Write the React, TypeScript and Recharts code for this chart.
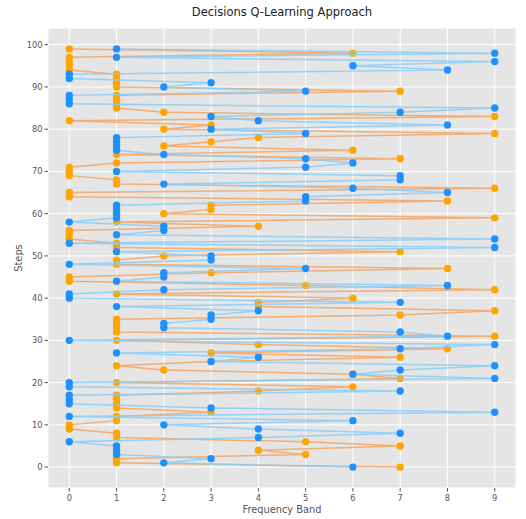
import { ScatterChart, Scatter, XAxis, YAxis, CartesianGrid } from "recharts";

// frequency band picked at each step (index = step)
const blueBands = [
  6, 2, 3, 1, 1, 1, 0, 4, 7, 4,
  2, 6, 0, 9, 3, 0, 0, 0, 7, 0,
  0, 9, 6, 7, 9, 3, 4, 1, 7, 9,
  0, 8, 7, 2, 2, 3, 3, 4, 1, 7,
  0, 0, 2, 8, 1, 2, 2, 5, 0, 3,
  3, 1, 9, 0, 9, 1, 2, 2, 0, 1,
  1, 1, 1, 5, 5, 8, 6, 2, 7, 7,
  1, 5, 6, 5, 2, 1, 1, 1, 1, 5,
  3, 8, 4, 3, 7, 9, 0, 0, 0, 5,
  2, 3, 0, 0, 8, 6, 9, 1, 9, 1,
];

const orangeBands = [
  7, 1, 1, 5, 4, 7, 5, 1, 1, 0,
  0, 1, 1, 3, 1, 1, 1, 1, 4, 6,
  1, 7, 6, 2, 1, 3, 7, 3, 8, 4,
  1, 9, 1, 1, 1, 1, 7, 9, 4, 4,
  6, 1, 9, 5, 0, 0, 3, 8, 1, 1,
  2, 7, 1, 1, 0, 0, 0, 4, 1, 9,
  2, 3, 3, 8, 0, 0, 9, 1, 1, 0,
  0, 0, 1, 7, 1, 6, 2, 3, 4, 9,
  2, 3, 0, 9, 2, 1, 1, 1, 1, 7,
  1, 1, 1, 1, 0, 0, 0, 0, 6, 0,
];

const xTicks = [0, 1, 2, 3, 4, 5, 6, 7, 8, 9];
const yTicks = [0, 10, 20, 30, 40, 50, 60, 70, 80, 90, 100];

const blueData = blueBands.map((b, i) => ({ x: b, y: i }));
const orangeData = orangeBands.map((b, i) => ({ x: b, y: i }));

const font = "'DejaVu Sans', sans-serif";

const dot = (fill: string) => (p: any) => (
  <circle cx={p.cx} cy={p.cy} r={3.7} fill={fill} />
);

export default function App() {
  return (
    <div style={{ position: "absolute", left: 0, top: 0, width: 526, height: 519, background: "#fff", fontFamily: font }}>
      <div style={{ position: "absolute", left: 48, width: 468, top: 5, textAlign: "center", fontSize: 11.5, color: "#222" }}>
        Decisions Q-Learning Approach
      </div>
      <div style={{ position: "absolute", left: 48, width: 468, top: 504, textAlign: "center", fontSize: 9.8, color: "#555" }}>
        Frequency Band
      </div>
      <div
        style={{
          position: "absolute", left: 18, top: 258, fontSize: 9.8, color: "#555",
          transform: "translate(-50%, -50%) rotate(-90deg)", whiteSpace: "nowrap",
        }}
      >
        Steps
      </div>
      <ScatterChart width={526} height={519} margin={{ top: 28, right: 10, bottom: 0, left: 0 }}>
        <CartesianGrid stroke="#fff" strokeWidth={1} fill="#E5E5E5" />
        <XAxis
          type="number"
          dataKey="x"
          domain={[-0.45, 9.45]}
          ticks={xTicks}
          interval={0}
          allowDataOverflow
          height={31}
          axisLine={false}
          tickSize={3.5}
          tickMargin={4}
          tickLine={{ stroke: "#555" }}
          tick={{ fontSize: 8.3, fill: "#555", fontFamily: font }}
        />
        <YAxis
          type="number"
          dataKey="y"
          domain={[-4.95, 103.95]}
          ticks={yTicks}
          interval={0}
          allowDataOverflow
          width={48}
          axisLine={false}
          tickSize={3.5}
          tickMargin={2}
          tickLine={{ stroke: "#555" }}
          tick={{ fontSize: 8.3, fill: "#555", fontFamily: font }}
        />
        <Scatter
          data={orangeData}
          line={{ stroke: "#F4A460", strokeWidth: 1.5, strokeOpacity: 0.85 }}
          shape={dot("#FFA500")}
          isAnimationActive={false}
        />
        <Scatter
          data={blueData}
          line={{ stroke: "#87CEFA", strokeWidth: 1.5, strokeOpacity: 0.85 }}
          shape={dot("#1E90FF")}
          isAnimationActive={false}
        />
      </ScatterChart>
    </div>
  );
}
